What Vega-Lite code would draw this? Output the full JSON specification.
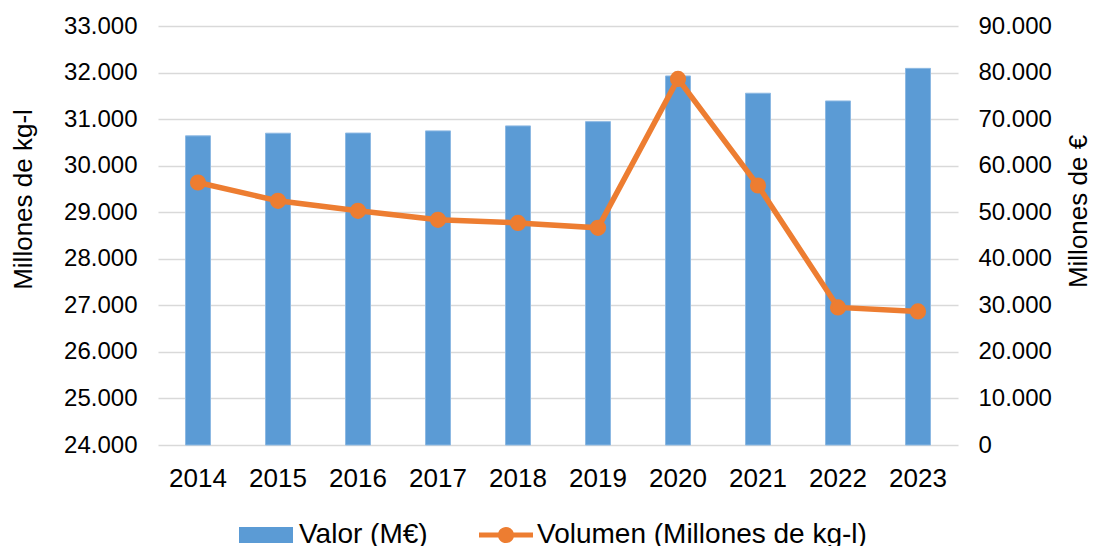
{
  "$schema": "https://vega.github.io/schema/vega-lite/v6.json",
  "width": 800,
  "height": 419,
  "autosize": {"type": "none"},
  "padding": {"left": 158, "top": 26, "right": 135, "bottom": 101},
  "background": "white",
  "config": {
    "font": "Liberation Sans",
    "view": {"stroke": null},
    "locale": {"number": {"decimal": ",", "thousands": ".", "grouping": [3], "currency": ["", " €"]}}
  },
  "data": {
    "values": [
      {"anio": "2014", "valor": 66400, "volumen": 29638},
      {"anio": "2015", "valor": 66970, "volumen": 29245},
      {"anio": "2016", "valor": 67000, "volumen": 29030},
      {"anio": "2017", "valor": 67470, "volumen": 28837},
      {"anio": "2018", "valor": 68540, "volumen": 28770},
      {"anio": "2019", "valor": 69460, "volumen": 28665},
      {"anio": "2020", "valor": 79270, "volumen": 31863},
      {"anio": "2021", "valor": 75560, "volumen": 29573},
      {"anio": "2022", "valor": 73900, "volumen": 26955},
      {"anio": "2023", "valor": 80900, "volumen": 26869}
    ]
  },
  "encoding": {
    "x": {
      "field": "anio",
      "type": "ordinal",
      "scale": {"paddingInner": 0, "paddingOuter": 0},
      "axis": {
        "title": null,
        "labelAngle": 0,
        "labelFontSize": 26,
        "labelColor": "#000000",
        "labelPadding": 20,
        "ticks": false,
        "domain": false,
        "grid": false
      }
    }
  },
  "layer": [
    {
      "mark": {"type": "bar", "size": 25, "stroke": "#8DB9E3", "strokeWidth": 1},
      "encoding": {
        "y": {
          "field": "valor",
          "type": "quantitative",
          "scale": {"domain": [0, 90000], "zero": true, "nice": false},
          "axis": {
            "orient": "right",
            "title": "Millones de €",
            "titleFontSize": 26,
            "titleFontWeight": "normal",
            "titleColor": "#000000",
            "titleAngle": 270,
            "titleBaseline": "middle",
            "titleAlign": "center",
            "titleX": 120,
            "titleY": 185,
            "values": [0, 10000, 20000, 30000, 40000, 50000, 60000, 70000, 80000, 90000],
            "format": ",.0f",
            "labelFontSize": 24,
            "labelColor": "#000000",
            "labelPadding": 20,
            "ticks": false,
            "domain": false,
            "grid": false
          }
        },
        "fill": {
          "datum": "Valor (M€)",
          "type": "nominal",
          "scale": {"domain": ["Valor (M€)"], "range": ["#5B9BD5"]},
          "legend": {
            "orient": "none",
            "legendX": 81,
            "legendY": 482,
            "title": null,
            "padding": 0,
            "labelFontSize": 28,
            "labelColor": "#000000",
            "labelLimit": 0,
            "labelOffset": 6,
            "symbolSize": 2916,
            "symbolType": "M-1,-0.3H1V0.3H-1Z",
            "symbolStrokeWidth": 0,
            "symbolOpacity": 1
          }
        }
      }
    },
    {
      "mark": {"type": "line", "strokeWidth": 5.5, "point": {"filled": true, "size": 200, "opacity": 1, "color": "#ED7D31"}},
      "encoding": {
        "y": {
          "field": "volumen",
          "type": "quantitative",
          "scale": {"domain": [24000, 33000], "zero": false, "nice": false},
          "axis": {
            "orient": "left",
            "title": "Millones de kg-l",
            "titleFontSize": 26,
            "titleFontWeight": "normal",
            "titleColor": "#000000",
            "titleAngle": 270,
            "titleBaseline": "middle",
            "titleAlign": "center",
            "titleX": -135,
            "titleY": 173,
            "values": [24000, 25000, 26000, 27000, 28000, 29000, 30000, 31000, 32000, 33000],
            "format": ",.0f",
            "labelFontSize": 24,
            "labelColor": "#000000",
            "labelPadding": 21,
            "ticks": false,
            "domain": false,
            "grid": true,
            "gridColor": "#D9D9D9",
            "gridWidth": 1.5,
            "zindex": 0
          }
        },
        "stroke": {
          "datum": "Volumen (Millones de kg-l)",
          "type": "nominal",
          "scale": {"domain": ["Volumen (Millones de kg-l)"], "range": ["#ED7D31"]},
          "legend": {
            "orient": "none",
            "legendX": 321,
            "legendY": 482,
            "title": null,
            "padding": 0,
            "labelFontSize": 28,
            "labelColor": "#000000",
            "labelLimit": 0,
            "labelOffset": 4,
            "symbolSize": 2916,
            "symbolType": "M-1,-0.09H1V0.09H-1Z M-0.3,0A0.3,0.3 0 1,1 0.3,0A0.3,0.3 0 1,1 -0.3,0Z",
            "symbolFillColor": "#ED7D31",
            "symbolStrokeWidth": 0,
            "symbolOpacity": 1
          }
        }
      }
    }
  ],
  "resolve": {"scale": {"y": "independent"}}
}
